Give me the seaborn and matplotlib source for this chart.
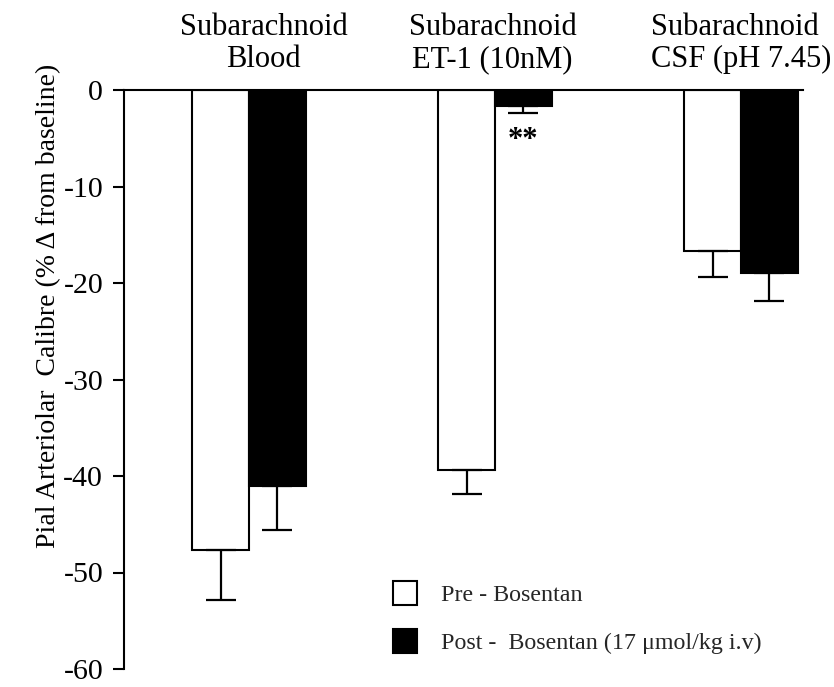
import matplotlib
matplotlib.use("Agg")
import matplotlib.pyplot as plt
from matplotlib.patches import Patch
import pandas as pd
import seaborn as sns

# Pial arteriolar calibre change (% from baseline), mean and SEM
conditions = ["Subarachnoid\nBlood", "Subarachnoid\nET-1 (10nM)", "Subarachnoid\nCSF (pH 7.45)"]
treatments = ["Pre - Bosentan", "Post -  Bosentan (17 \u03bcmol/kg i.v)"]
pre_mean = [-47.7, -39.4, -16.7]
pre_sem = [5.1, 2.5, 2.7]
post_mean = [-41.0, -1.7, -19.0]
post_sem = [4.6, 0.7, 2.9]
y_ticks = [0, -10, -20, -30, -40, -50, -60]
significance = ["", "**", ""]

df = pd.DataFrame({
    "condition": conditions * 2,
    "treatment": [treatments[0]] * len(conditions) + [treatments[1]] * len(conditions),
    "change": pre_mean + post_mean,
})

sns.set_theme(style="ticks")
plt.rcParams["font.family"] = ["Liberation Serif", "DejaVu Serif"]
plt.rcParams["axes.unicode_minus"] = False

W, H = 834, 687
fig = plt.figure(figsize=(W / 100, H / 100), dpi=100)
ax = fig.add_axes([124 / W, 18 / H, (803 - 124) / W, 579 / H])

sns.barplot(
    data=df, x="condition", y="change", hue="treatment",
    order=conditions, hue_order=treatments,
    palette=["white", "black"], saturation=1,
    edgecolor="black", linewidth=1.5, width=0.46,
    errorbar=None, legend=False, ax=ax,
)

# one-sided (downward) SEM bars
for container, sems in zip(ax.containers, [pre_sem, post_sem]):
    for bar, se in zip(container, sems):
        cx = bar.get_x() + bar.get_width() / 2
        cy = bar.get_y() + bar.get_height()
        ax.errorbar(cx, cy, yerr=[[se], [0]], fmt="none", ecolor="black",
                    elinewidth=1.6, capsize=10.5, capthick=1.6, zorder=1)

# significance markers under the post-treatment bars
for bar, se, mark in zip(ax.containers[1], post_sem, significance):
    if mark:
        cx = bar.get_x() + bar.get_width() / 2
        cy = bar.get_y() + bar.get_height() - se
        ax.text(cx, cy - 1.3, mark, ha="center", va="top",
                fontsize=22, fontweight="bold", color="black")

ax.set_xlim(-0.508, 2.252)
ax.set_ylim(-60, 0)
ax.set_yticks(y_ticks)
ax.set_yticklabels([str(t) for t in y_ticks])
ax.tick_params(axis="y", direction="out", length=8, width=1.5, labelsize=21.5, pad=7, colors="black")
ax.set_xticks([])
ax.set_xlabel("")

for side in ["right", "bottom"]:
    ax.spines[side].set_visible(False)
for side in ["left", "top"]:
    ax.spines[side].set_linewidth(1.5)
    ax.spines[side].set_color("black")

ax.set_ylabel("Pial Arteriolar  Calibre (% \u0394 from baseline)", fontsize=20, color="black")
ax.yaxis.set_label_coords(-0.092, 0.627)

# condition headings above the plot
offsets = [0.06, -0.01, 0.0]
for i, (label, dx) in enumerate(zip(conditions, offsets)):
    ax.text(i + dx, 1.0397, label, transform=ax.get_xaxis_transform(),
            ha="center", va="baseline", multialignment="center" if i < 2 else "left",
            fontsize=22, linespacing=1.13, color="black", clip_on=False)

handles = [Patch(facecolor=c, edgecolor="black", linewidth=1.5) for c in ["white", "black"]]
fig.legend(handles, treatments, loc="upper left", bbox_to_anchor=(393 / W, 1 - 581 / H),
           frameon=False, fontsize=17.3, handlelength=1.0, handleheight=1.15,
           handletextpad=1.0, labelspacing=0.95, borderpad=0, borderaxespad=0)

fig.savefig("out.png", dpi=100, facecolor="white")
